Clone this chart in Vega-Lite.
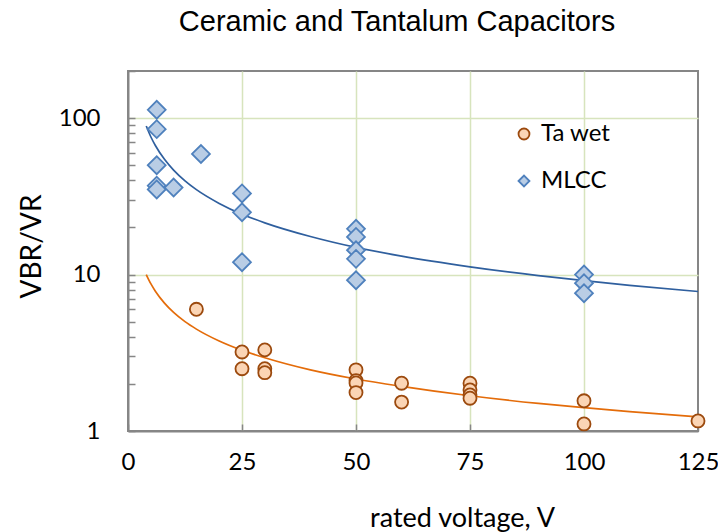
{
  "$schema": "https://vega.github.io/schema/vega-lite/v6.json",
  "width": 570,
  "height": 360,
  "autosize": {"type": "none"},
  "padding": {"left": 128, "top": 71, "right": 20, "bottom": 101},
  "background": "white",
  "title": {"text": "Ceramic and Tantalum Capacitors", "font": "Liberation Sans", "fontSize": 29, "fontWeight": "normal", "color": "#000000", "offset": 33, "dx": -16},
  "config": {"view": {"stroke": "#868686", "strokeWidth": 2}, "font": "Lato"},
  "datasets": {
    "points": [
      {"series": "MLCC", "v": 6.3, "r": 113},
      {"series": "MLCC", "v": 6.3, "r": 85},
      {"series": "MLCC", "v": 6.3, "r": 50},
      {"series": "MLCC", "v": 6.3, "r": 37},
      {"series": "MLCC", "v": 6.3, "r": 35},
      {"series": "MLCC", "v": 10, "r": 36},
      {"series": "MLCC", "v": 16, "r": 59},
      {"series": "MLCC", "v": 25, "r": 33},
      {"series": "MLCC", "v": 25, "r": 25},
      {"series": "MLCC", "v": 25, "r": 12},
      {"series": "MLCC", "v": 50, "r": 19.6},
      {"series": "MLCC", "v": 50, "r": 17.4},
      {"series": "MLCC", "v": 50, "r": 14.3},
      {"series": "MLCC", "v": 50, "r": 12.6},
      {"series": "MLCC", "v": 50, "r": 9.2},
      {"series": "MLCC", "v": 100, "r": 10},
      {"series": "MLCC", "v": 100, "r": 8.8},
      {"series": "MLCC", "v": 100, "r": 7.6},
      {"series": "Ta wet", "v": 15, "r": 6},
      {"series": "Ta wet", "v": 25, "r": 3.2},
      {"series": "Ta wet", "v": 25, "r": 2.5},
      {"series": "Ta wet", "v": 30, "r": 3.3},
      {"series": "Ta wet", "v": 30, "r": 2.5},
      {"series": "Ta wet", "v": 30, "r": 2.36},
      {"series": "Ta wet", "v": 50, "r": 2.46},
      {"series": "Ta wet", "v": 50, "r": 2.1},
      {"series": "Ta wet", "v": 50, "r": 2.03},
      {"series": "Ta wet", "v": 50, "r": 1.76},
      {"series": "Ta wet", "v": 60, "r": 2.02},
      {"series": "Ta wet", "v": 60, "r": 1.53},
      {"series": "Ta wet", "v": 75, "r": 2.02},
      {"series": "Ta wet", "v": 75, "r": 1.83},
      {"series": "Ta wet", "v": 75, "r": 1.7},
      {"series": "Ta wet", "v": 75, "r": 1.62},
      {"series": "Ta wet", "v": 100, "r": 1.56},
      {"series": "Ta wet", "v": 100, "r": 1.11},
      {"series": "Ta wet", "v": 125, "r": 1.16}
    ],
    "trend": [
      {"series": "MLCC", "v": 4, "r": 89.0},
      {"series": "MLCC", "v": 5, "r": 76.0},
      {"series": "MLCC", "v": 6, "r": 66.8},
      {"series": "MLCC", "v": 8, "r": 54.5},
      {"series": "MLCC", "v": 10, "r": 46.5},
      {"series": "MLCC", "v": 12.5, "r": 39.7},
      {"series": "MLCC", "v": 15, "r": 34.9},
      {"series": "MLCC", "v": 20, "r": 28.5},
      {"series": "MLCC", "v": 25, "r": 24.3},
      {"series": "MLCC", "v": 30, "r": 21.4},
      {"series": "MLCC", "v": 40, "r": 17.5},
      {"series": "MLCC", "v": 50, "r": 14.9},
      {"series": "MLCC", "v": 60, "r": 13.1},
      {"series": "MLCC", "v": 75, "r": 11.2},
      {"series": "MLCC", "v": 90, "r": 9.84},
      {"series": "MLCC", "v": 100, "r": 9.14},
      {"series": "MLCC", "v": 110, "r": 8.53},
      {"series": "MLCC", "v": 125, "r": 7.79},
      {"series": "Ta wet", "v": 4, "r": 10.0},
      {"series": "Ta wet", "v": 5, "r": 8.74},
      {"series": "Ta wet", "v": 6, "r": 7.83},
      {"series": "Ta wet", "v": 8, "r": 6.57},
      {"series": "Ta wet", "v": 10, "r": 5.73},
      {"series": "Ta wet", "v": 12.5, "r": 5.0},
      {"series": "Ta wet", "v": 15, "r": 4.48},
      {"series": "Ta wet", "v": 20, "r": 3.76},
      {"series": "Ta wet", "v": 25, "r": 3.28},
      {"series": "Ta wet", "v": 30, "r": 2.94},
      {"series": "Ta wet", "v": 40, "r": 2.46},
      {"series": "Ta wet", "v": 50, "r": 2.15},
      {"series": "Ta wet", "v": 60, "r": 1.93},
      {"series": "Ta wet", "v": 75, "r": 1.68},
      {"series": "Ta wet", "v": 90, "r": 1.5},
      {"series": "Ta wet", "v": 100, "r": 1.41},
      {"series": "Ta wet", "v": 110, "r": 1.33},
      {"series": "Ta wet", "v": 125, "r": 1.23}
    ]
  },
  "layer": [
    {
      "data": {"name": "trend"},
      "transform": [{"filter": "datum.series == 'MLCC'"}],
      "mark": {"type": "line", "strokeWidth": 1.7, "interpolate": "monotone", "color": "#2F5F9E"},
      "encoding": {
        "x": {
          "field": "v", "type": "quantitative",
          "scale": {"domain": [0, 125], "nice": false, "zero": false},
          "axis": {
            "title": "rated voltage, V",
            "values": [0, 25, 50, 75, 100, 125],
            "grid": true,
            "gridColor": {"condition": {"test": "datum.value == 0 || datum.value == 125", "value": "rgba(0,0,0,0)"}, "value": "#D7E4BD"},
            "gridWidth": 1.5,
            "tickSize": -7, "tickColor": "#868686", "tickWidth": 1.5,
            "domainColor": "#868686", "domainWidth": 2,
            "labelFont": "Lato", "labelFontSize": 24, "labelColor": "#000000", "labelPadding": 26, "labelFlush": false,
            "titleFont": "Lato", "titleFontSize": 27, "titleFontWeight": "normal", "titleColor": "#000000",
            "titleX": 334, "titleY": 87, "titleBaseline": "middle", "titleAlign": "center"
          }
        },
        "y": {
          "field": "r", "type": "quantitative",
          "scale": {"type": "log", "domain": [1, 200], "nice": false},
          "axis": {
            "title": "VBR/VR",
            "values": [1, 2, 3, 4, 5, 6, 7, 8, 9, 10, 20, 30, 40, 50, 60, 70, 80, 90, 100, 200],
            "format": "d",
            "labelExpr": "datum.value == 1 || datum.value == 10 || datum.value == 100 ? datum.label : ''",
            "grid": true,
            "gridColor": {"condition": {"test": "datum.value == 10 || datum.value == 100", "value": "#D7E4BD"}, "value": "rgba(0,0,0,0)"},
            "gridWidth": 1.5,
            "tickSize": -7, "tickColor": "#868686", "tickWidth": 1.5,
            "domainColor": "#868686", "domainWidth": 2,
            "labelFont": "Lato", "labelFontSize": 24, "labelColor": "#000000", "labelPadding": 35, "labelFlush": false,
            "titleFont": "Lato", "titleFontSize": 28, "titleFontWeight": "normal", "titleColor": "#000000",
            "titleX": -96, "titleY": 175, "titleBaseline": "middle", "titleAlign": "center", "titleAngle": -90
          }
        }
      }
    },
    {
      "data": {"name": "trend"},
      "transform": [{"filter": "datum.series == 'Ta wet'"}],
      "mark": {"type": "line", "strokeWidth": 1.7, "interpolate": "monotone", "color": "#E46C0A"},
      "encoding": {
        "x": {"field": "v", "type": "quantitative"},
        "y": {"field": "r", "type": "quantitative"}
      }
    },
    {
      "data": {"name": "points"},
      "transform": [{"filter": "datum.series == 'MLCC'"}],
      "mark": {"type": "point", "filled": true, "size": 320, "strokeWidth": 1.8, "opacity": 1},
      "encoding": {
        "x": {"field": "v", "type": "quantitative"},
        "y": {"field": "r", "type": "quantitative"},
        "shape": {"field": "series", "type": "nominal", "scale": {"domain": ["Ta wet", "MLCC"], "range": ["circle", "diamond"]},
          "legend": {"title": null, "orient": "none", "legendX": 384, "legendY": 51, "symbolSize": 120, "symbolStrokeWidth": 1.8, "labelFont": "Lato", "labelFontSize": 24, "labelColor": "#000000", "labelOffset": 5, "rowPadding": 23}},
        "fill": {"field": "series", "type": "nominal", "scale": {"domain": ["Ta wet", "MLCC"], "range": ["#FBD5B5", "#B9CDE5"]}},
        "stroke": {"field": "series", "type": "nominal", "scale": {"domain": ["Ta wet", "MLCC"], "range": ["#9C4A0E", "#4F81BD"]}}
      }
    },
    {
      "data": {"name": "points"},
      "transform": [{"filter": "datum.series == 'Ta wet'"}],
      "mark": {"type": "point", "filled": true, "size": 170, "strokeWidth": 1.8, "opacity": 1},
      "encoding": {
        "x": {"field": "v", "type": "quantitative"},
        "y": {"field": "r", "type": "quantitative"},
        "shape": {"field": "series", "type": "nominal"},
        "fill": {"field": "series", "type": "nominal"},
        "stroke": {"field": "series", "type": "nominal"}
      }
    }
  ]
}
